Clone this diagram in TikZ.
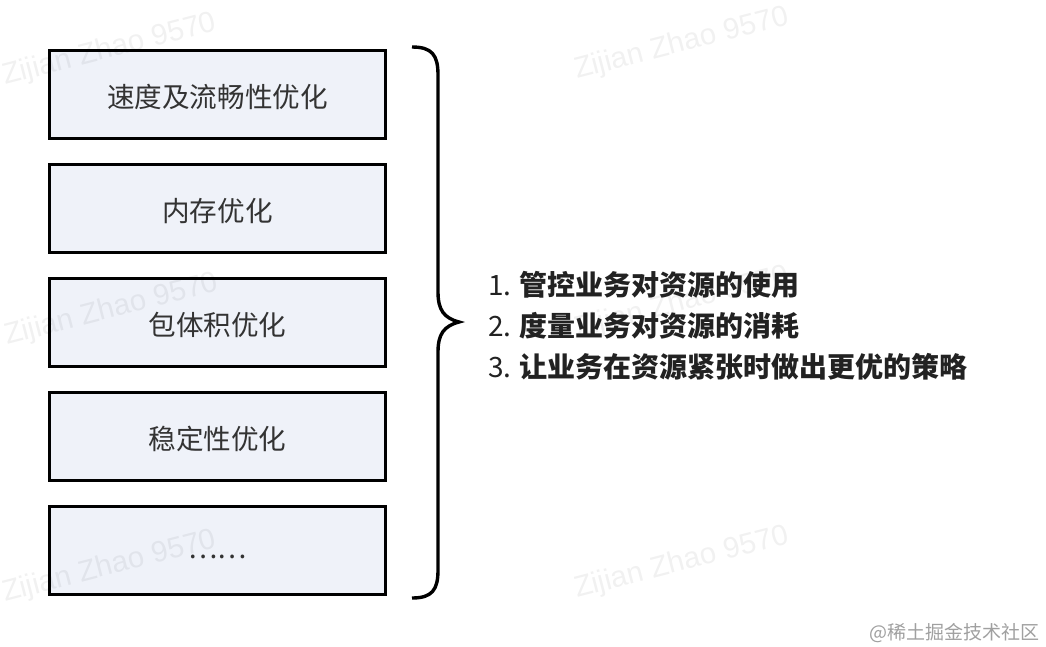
\documentclass[tikz,border=0pt]{standalone}
\usepackage{fontspec}
\newfontfamily\cjk{Noto Sans CJK SC}
\newfontfamily\wmfont{Liberation Sans}
\definecolor{boxfill}{RGB}{239,242,249}
\definecolor{boxtext}{RGB}{51,51,51}
\definecolor{listtext}{RGB}{34,34,34}
\definecolor{credit}{RGB}{160,160,160}
\begin{document}
\begin{tikzpicture}[x=1pt,y=-1pt,
  itembox/.style={draw=black, line width=3pt, fill=boxfill, minimum width=336pt, minimum height=88pt,
    inner sep=0pt, font=\cjk\fontsize{27.6}{27.6}\selectfont, text=boxtext, text height=25.6pt, text depth=0pt},
  bracepath/.style={draw=black, line width=3.4pt},
  listline/.style={anchor=base west, inner sep=0pt, font=\cjk\fontsize{28}{28}\selectfont, text=listtext},
  watermark/.style={anchor=base west, inner sep=0pt, rotate=14.5, font=\wmfont\fontsize{29.5}{29.5}\selectfont, text=black, opacity=0.055}]
\useasboundingbox (0,0) rectangle (1046,646);
\fill[white] (0,0) rectangle (1046,646);
% boxes
\node[itembox] (b1) at (217.5,94.5) {速度及流畅性优化};
\node[itembox] (b2) at (217.5,208.5) {内存优化};
\node[itembox] (b3) at (217.5,322.5) {包体积优化};
\node[itembox] (b4) at (217.5,436.5) {稳定性优化};
\node[itembox, text height=15.6pt] (b5) at (217.5,550.5) {……};
% brace
\coordinate (btop) at (412,47);
\coordinate (bbot) at (412,598);
\coordinate (btip) at (459,322);
\draw[bracepath] (btop) .. controls (432,47) and (438,55) .. (438,75)
  -- (438,292) .. controls (438,310) and (444,318) .. (btip)
  .. controls (444,326) and (438,334) .. (438,352)
  -- (438,570) .. controls (438,590) and (432,598) .. (bbot);
% watermarks
\node[watermark] (w1) at (5,85) {Zijian Zhao 9570};
\node[watermark] (w2) at (577,79) {Zijian Zhao 9570};
\node[watermark] (w3) at (7,345) {Zijian Zhao 9570};
\node[watermark] (w4) at (577,338) {Zijian Zhao 9570};
\node[watermark] (w5) at (5,602) {Zijian Zhao 9570};
\node[watermark] (w6) at (577,598) {Zijian Zhao 9570};
% list
\node[listline] (l1) at (488,295) {1. {\bfseries 管控业务对资源的使用}};
\node[listline] (l2) at (488,336) {2. {\bfseries 度量业务对资源的消耗}};
\node[listline] (l3) at (488,377) {3. {\bfseries 让业务在资源紧张时做出更优的策略}};
% credit
\node[anchor=base east, inner sep=0pt, font=\cjk\fontsize{19}{19}\selectfont, text=credit] (cr) at (1040,639) {@稀土掘金技术社区};
\end{tikzpicture}
\end{document}
